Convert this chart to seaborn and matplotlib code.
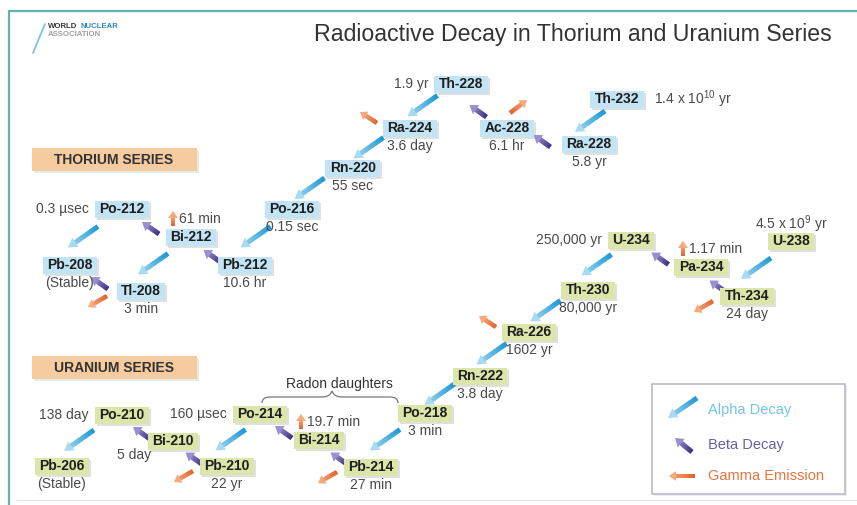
import numpy as np
import matplotlib
matplotlib.use("Agg")
import matplotlib.pyplot as plt
from matplotlib.patches import Rectangle, Polygon, PathPatch
from matplotlib.collections import PolyCollection
from matplotlib.path import Path
import matplotlib.colors as mcolors
import seaborn as sns

sns.set_theme(style="white")
plt.rcParams["font.family"] = ["Liberation Sans", "DejaVu Sans"]
plt.rcParams["mathtext.fontset"] = "custom"
plt.rcParams["mathtext.rm"] = "Liberation Sans"
plt.rcParams["mathtext.it"] = "Liberation Sans:italic"
plt.rcParams["mathtext.bf"] = "Liberation Sans:bold"

title = "Radioactive Decay in Thorium and Uranium Series"

# thorium series
thorium_nuclides = ["Th-232", "Ra-228", "Ac-228", "Th-228", "Ra-224", "Rn-220",
                    "Po-216", "Pb-212", "Bi-212", "Po-212", "Tl-208", "Pb-208"]
thorium_half_lives = ["1.4 x 10$^{10}$ yr", "5.8 yr", "6.1 hr", "1.9 yr", "3.6 day", "55 sec",
                      "0.15 sec", "10.6 hr", "61 min", "0.3 \u00b5sec", "3 min", "(Stable)"]
thorium_decays = [("Th-232", "Ra-228", "alpha"), ("Ra-228", "Ac-228", "beta"),
                  ("Ac-228", "Th-228", "beta"), ("Th-228", "Ra-224", "alpha"),
                  ("Ra-224", "Rn-220", "alpha"), ("Rn-220", "Po-216", "alpha"),
                  ("Po-216", "Pb-212", "alpha"), ("Pb-212", "Bi-212", "beta"),
                  ("Bi-212", "Po-212", "beta"), ("Bi-212", "Tl-208", "alpha"),
                  ("Po-212", "Pb-208", "alpha"), ("Tl-208", "Pb-208", "beta")]
thorium_gamma = [("Ac-228", "upright"), ("Ra-224", "upleft"),
                 ("Bi-212", "up"), ("Tl-208", "downleft")]

# uranium series
uranium_nuclides = ["U-238", "Th-234", "Pa-234", "U-234", "Th-230", "Ra-226", "Rn-222",
                    "Po-218", "Pb-214", "Bi-214", "Po-214", "Pb-210", "Bi-210", "Po-210", "Pb-206"]
uranium_half_lives = ["4.5 x 10$^{9}$ yr", "24 day", "1.17 min", "250,000 yr", "80,000 yr",
                      "1602 yr", "3.8 day", "3 min", "27 min", "19.7 min", "160 \u00b5sec",
                      "22 yr", "5 day", "138 day", "(Stable)"]
uranium_decays = [("U-238", "Th-234", "alpha"), ("Th-234", "Pa-234", "beta"),
                  ("Pa-234", "U-234", "beta"), ("U-234", "Th-230", "alpha"),
                  ("Th-230", "Ra-226", "alpha"), ("Ra-226", "Rn-222", "alpha"),
                  ("Rn-222", "Po-218", "alpha"), ("Po-218", "Pb-214", "alpha"),
                  ("Pb-214", "Bi-214", "beta"), ("Bi-214", "Po-214", "beta"),
                  ("Po-214", "Pb-210", "alpha"), ("Pb-210", "Bi-210", "beta"),
                  ("Bi-210", "Po-210", "beta"), ("Po-210", "Pb-206", "alpha")]
uranium_gamma = [("Th-234", "downleft"), ("Pa-234", "up"), ("Ra-226", "upleft"),
                 ("Pb-214", "downleft"), ("Bi-214", "up"), ("Pb-210", "downleft")]

series_names = ["THORIUM SERIES", "URANIUM SERIES"]
legend_labels = ["Alpha Decay", "Beta Decay", "Gamma Emission"]
brace_label = "Radon daughters"
logo_words = ["WORLD", "NUCLEAR", "ASSOCIATION"]

# layout: box centres in pixels, and where each half-life sits
pos = {"Th-232": (617, 99), "Ra-228": (589, 144), "Ac-228": (507, 128), "Th-228": (461, 84),
       "Ra-224": (410, 128), "Rn-220": (353, 168), "Po-216": (292, 209), "Pb-212": (245, 265),
       "Bi-212": (191, 237), "Po-212": (122, 209), "Tl-208": (141, 291), "Pb-208": (70, 265),
       "U-238": (791, 241), "Th-234": (747, 296), "Pa-234": (701, 267), "U-234": (631, 240),
       "Th-230": (588, 290), "Ra-226": (529, 332), "Rn-222": (480, 376), "Po-218": (425, 413),
       "Pb-214": (371, 467), "Bi-214": (319, 440), "Po-214": (260, 414), "Pb-210": (227, 466),
       "Bi-210": (173, 441), "Po-210": (122, 415), "Pb-206": (62, 466)}
side = {"Th-232": "right", "Th-228": "left", "Bi-212": "upright", "Po-212": "left",
        "U-238": "above", "Pa-234": "upright", "U-234": "left", "Bi-214": "upright",
        "Po-214": "left", "Bi-210": "belowleft", "Po-210": "left"}

style = {"alpha": dict(c0="#1a98d5", c1="#a8daf1", vec=(-30, 21), off=(-13, 0), w=5, hl=9, hw=11),
         "beta": dict(c0="#3b2c84", c1="#9a8fd0", vec=(-17, -12), off=(-6, 5), w=5, hl=8, hw=11),
         "gamma": dict(c0="#e0622a", c1="#f7a97c", w=4.5, hl=7, hw=10)}
gamma_dir = {"upleft": ((-33, -5), (-17, -11)), "upright": ((3, -15), (17, -13)),
             "up": ((-18, -11), (0, -15)), "downleft": ((-34, 5), (-19, 11))}


def arrow(ax, tail, vec, c0, c1, w, hl, hw, n=10):
    tail = np.array(tail, float)
    vec = np.array(vec, float)
    L = np.hypot(*vec)
    u = vec / L
    nr = np.array([-u[1], u[0]])
    base = tail + u * (L - hl)
    a0 = np.array(mcolors.to_rgb(c0))
    a1 = np.array(mcolors.to_rgb(c1))
    ts = np.linspace(0, 1, n + 1)
    polys, cols = [], []
    for i in range(n):
        p = tail + (base - tail) * ts[i]
        q = tail + (base - tail) * ts[i + 1] + u * 0.6
        polys.append([p + nr * w / 2, q + nr * w / 2, q - nr * w / 2, p - nr * w / 2])
        cols.append(a0 + (a1 - a0) * 0.75 * (ts[i] + ts[i + 1]) / 2)
    ax.add_collection(PolyCollection(polys, facecolors=cols, edgecolors="none", zorder=3))
    tip = tail + vec
    ax.add_patch(Polygon([tip, base + nr * hw / 2, base - nr * hw / 2], closed=True,
                         facecolor=c1, edgecolor="none", zorder=3))


fig = plt.figure(figsize=(8.57, 5.05), dpi=100)
ax = fig.add_axes([0, 0, 1, 1])
ax.set_xlim(0, 857)
ax.set_ylim(505, 0)
ax.axis("off")
renderer = fig.canvas.get_renderer()

# frame and logo
ax.plot([9, 9, 857], [505, 11, 11], color="#63b3aa", lw=1.6, solid_joinstyle="miter")
ax.plot([16, 857], [500, 500], color="#e6e6e6", lw=0.8)
ax.plot([45, 33], [24, 53], color="#7cc3e6", lw=1.3)
w1 = ax.text(48, 26, logo_words[0], fontsize=5.6, fontweight="bold", color="#333333", va="center")
w1w = w1.get_window_extent(renderer=renderer).width
ax.text(48 + w1w + 3, 26, logo_words[1], fontsize=5.6, fontweight="bold", color="#2f86cf", va="center")
ax.text(48, 35, logo_words[2], fontsize=5.6, fontweight="bold", color="#a0a0a0", va="center")
ax.text(573, 35, title, fontsize=16.7, color="#333333", ha="center", va="center")

# series labels
for name, y in zip(series_names, [159.5, 368]):
    ax.add_patch(Rectangle((34, y - 10), 165, 23, facecolor="#cccccc", alpha=0.4, edgecolor="none", zorder=1))
    ax.add_patch(Rectangle((32, y - 12), 165, 23, facecolor="#f6cb9f", edgecolor="none", zorder=2))
    ax.text(114, y, name, fontsize=10, fontweight="bold", color="#333333", ha="center", va="center", zorder=3)


def draw_series(nuclides, half_lives, decays, gammas, box_color):
    for nuc, hl in zip(nuclides, half_lives):
        x, y = pos[nuc]
        t = ax.text(x, y, nuc, fontsize=10, fontweight="bold", color="#1e1e1e",
                    ha="center", va="center", zorder=5)
        bw = t.get_window_extent(renderer=renderer).width + 9
        ax.add_patch(Rectangle((x - bw / 2 + 2, y - 8.5 + 2), bw, 17, facecolor="#999999",
                               alpha=0.3, edgecolor="none", zorder=3.5))
        ax.add_patch(Rectangle((x - bw / 2, y - 8.5), bw, 17, facecolor=box_color,
                               edgecolor="none", zorder=4))
        s = side.get(nuc, "below")
        kw = dict(fontsize=10, color="#4a4a4a", va="center", zorder=5)
        if s == "below":
            ax.text(x, y + 18, hl, ha="center", **kw)
        elif s == "left":
            ax.text(x - bw / 2 - 6, y, hl, ha="right", **kw)
        elif s == "right":
            ax.text(x + bw / 2 + 10, y, hl, ha="left", **kw)
        elif s == "above":
            ax.text(x, y - 17, hl, ha="center", **kw)
        elif s == "upright":
            ax.text(x - 12, y - 18, hl, ha="left", **kw)
        elif s == "belowleft":
            ax.text(x - 39, y + 14, hl, ha="center", **kw)
    for a, b, kind in decays:
        st = style[kind]
        mid = (np.array(pos[a]) + np.array(pos[b])) / 2 + np.array(st["off"])
        tail = mid - np.array(st["vec"]) / 2
        arrow(ax, tail, st["vec"], st["c0"], st["c1"], st["w"], st["hl"], st["hw"])
    for nuc, d in gammas:
        rel, vec = gamma_dir[d]
        st = style["gamma"]
        arrow(ax, np.array(pos[nuc]) + np.array(rel), vec, st["c0"], st["c1"], st["w"], st["hl"], st["hw"])


draw_series(thorium_nuclides, thorium_half_lives, thorium_decays, thorium_gamma, "#c3e4f4")
draw_series(uranium_nuclides, uranium_half_lives, uranium_decays, uranium_gamma, "#dce6ab")

# radon daughters brace
verts = [(262, 403), (262, 397), (270, 397), (270, 397), (322, 397), (330, 397), (332, 391),
         (334, 397), (342, 397), (390, 397), (398, 397), (398, 403)]
codes = [Path.MOVETO, Path.CURVE3, Path.CURVE3, Path.LINETO, Path.LINETO, Path.CURVE3, Path.CURVE3,
         Path.CURVE3, Path.CURVE3, Path.LINETO, Path.CURVE3, Path.CURVE3]
ax.add_patch(PathPatch(Path(verts, codes), facecolor="none", edgecolor="#777777", lw=0.9))
ax.text(339, 384, brace_label, fontsize=10, color="#333333", ha="center", va="center")

# legend
ax.add_patch(Rectangle((654, 386), 193, 110, facecolor="#dddddd", alpha=0.5, edgecolor="none", zorder=1))
ax.add_patch(Rectangle((652, 384), 193, 110, facecolor="white", edgecolor="#b9b9cc", lw=1.2, zorder=2))
legend_colors = ["#72c4ea", "#6a5fa6", "#e9743c"]
legend_glyphs = [("alpha", (697, 398), (-29, 20)), ("beta", (692, 452), (-17, -14)),
                 ("gamma", (695, 476), (-26, 0))]
for (kind, tail, vec), lab, col, ly in zip(legend_glyphs, legend_labels, legend_colors, [410, 445, 476]):
    st = style[kind]
    arrow(ax, tail, vec, st["c0"], st["c1"], st["w"], st["hl"], st["hw"])
    ax.text(708, ly, lab, fontsize=10.5, color=col, va="center", zorder=5)

fig.savefig("out.png", dpi=100, facecolor="white")
